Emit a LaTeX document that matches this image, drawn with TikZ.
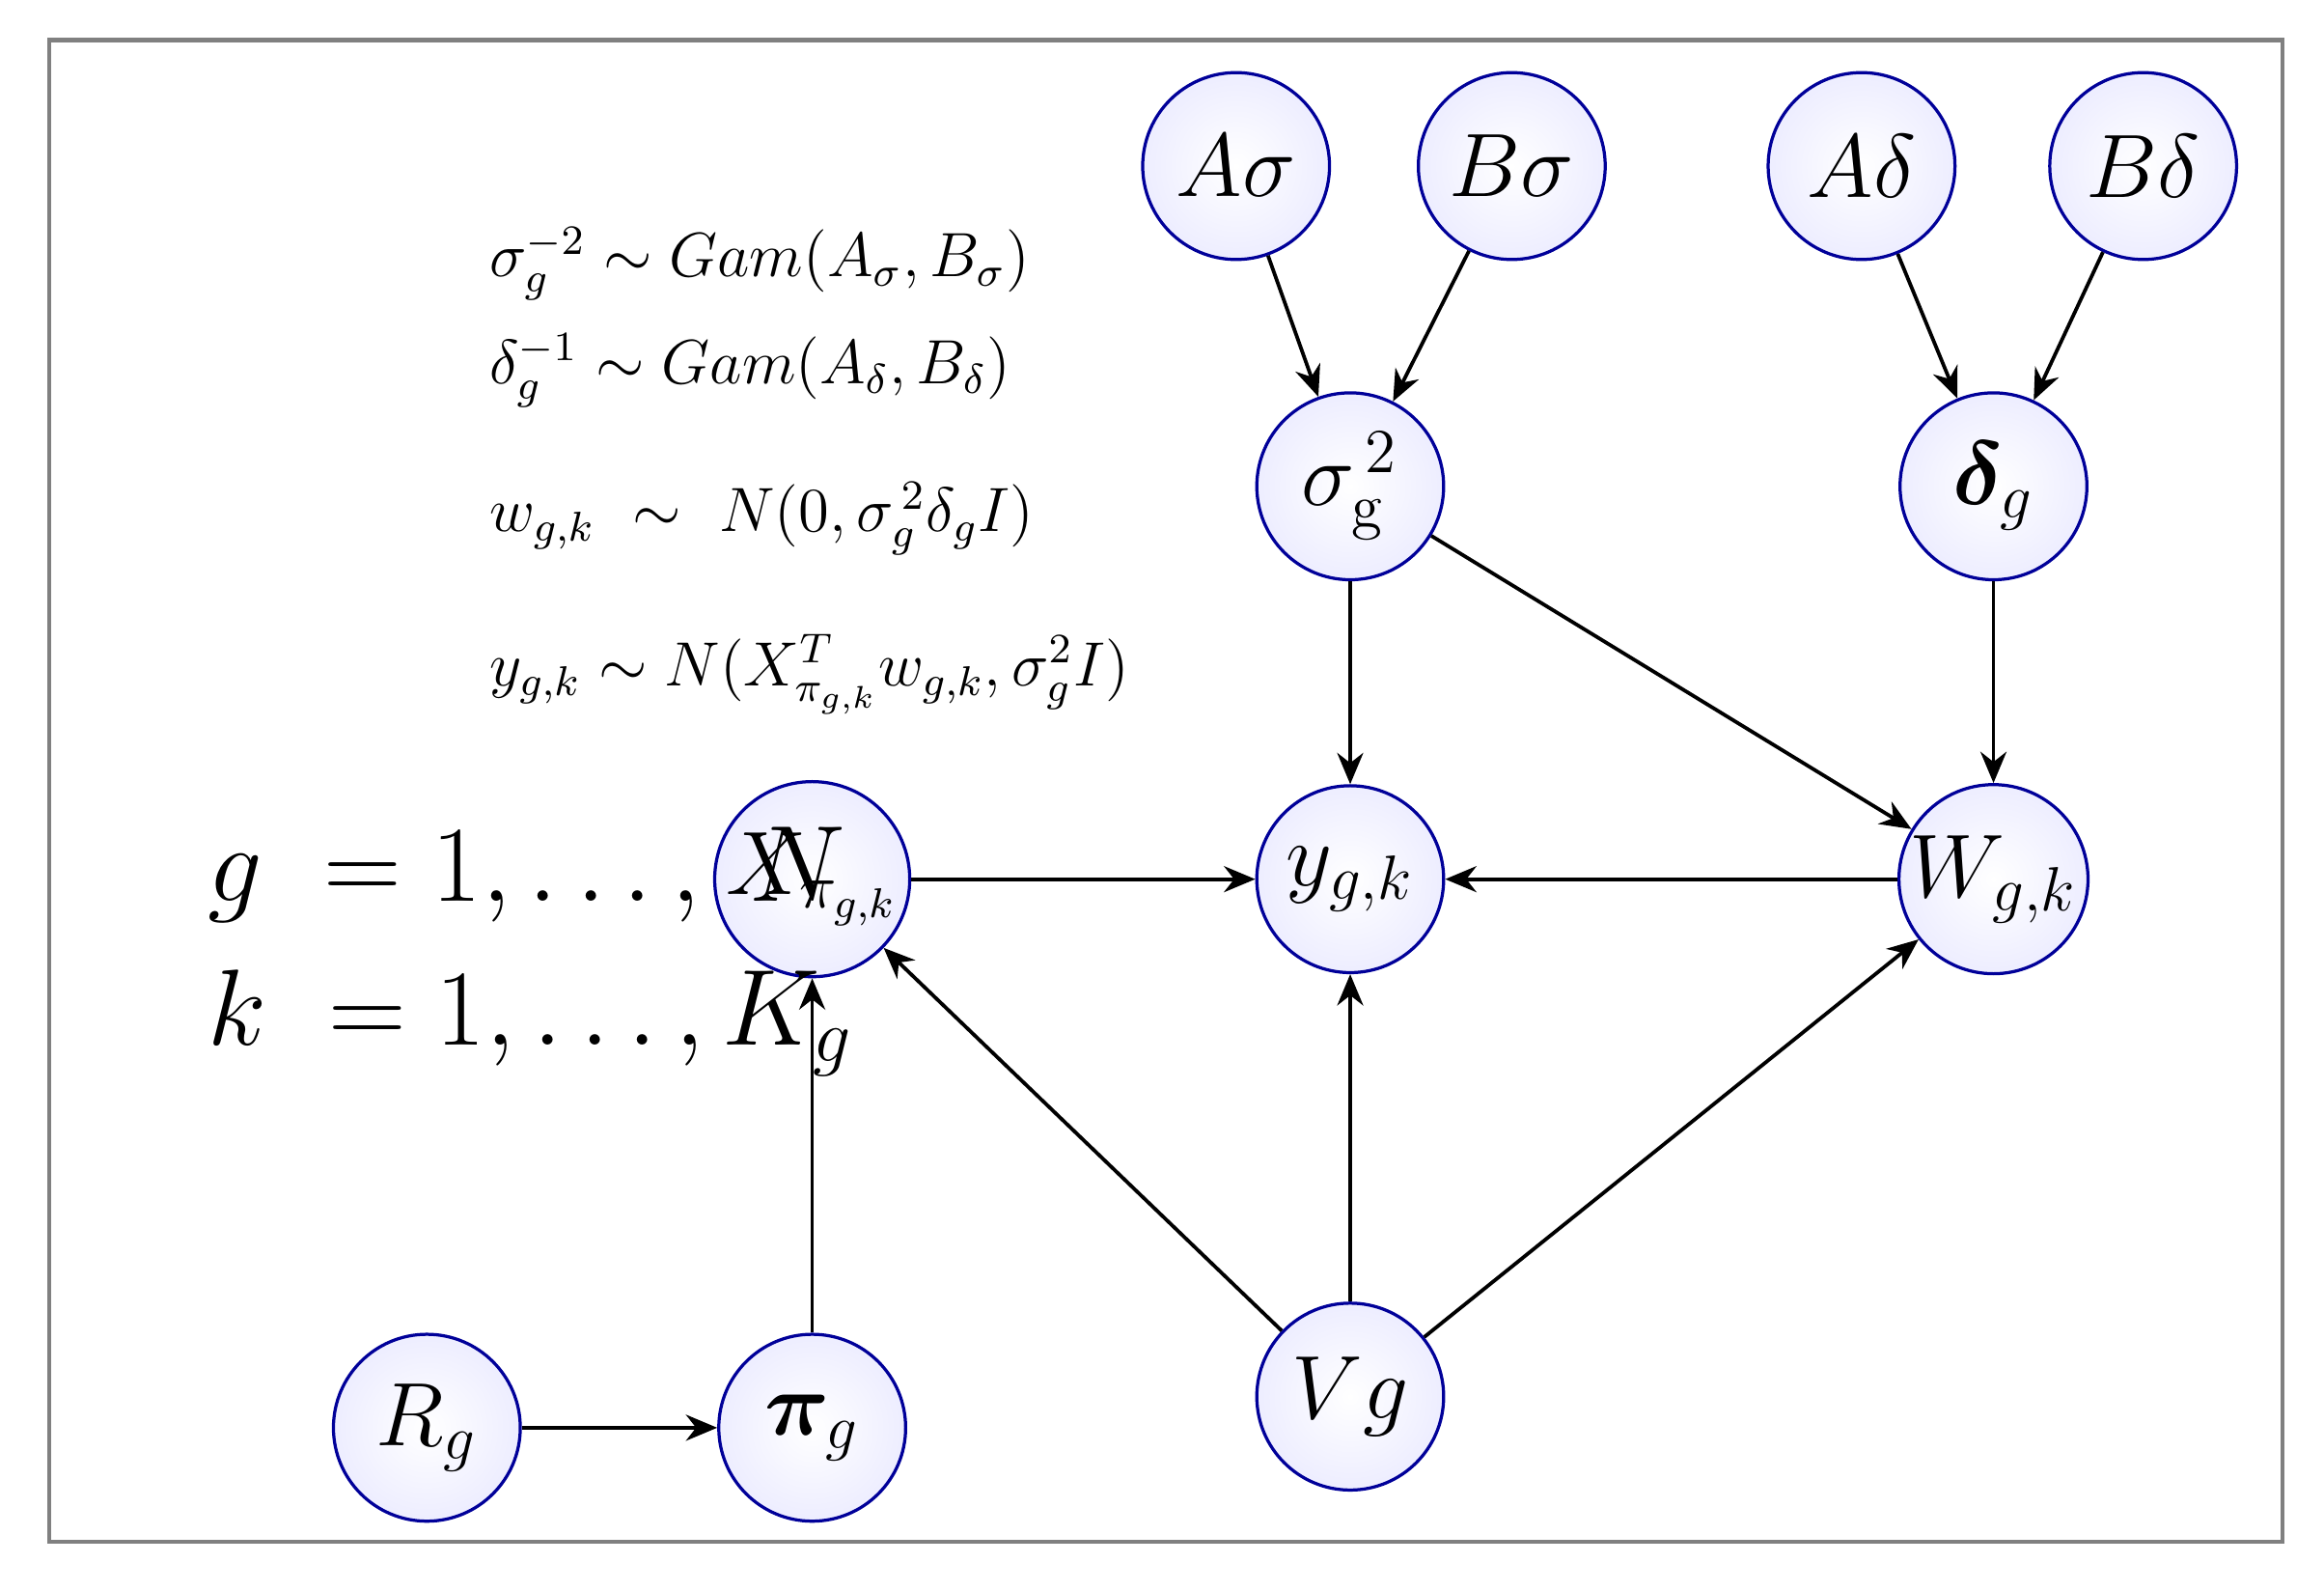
\documentclass[tikz,border=0pt]{standalone}
\usepackage{amsmath,amssymb,bm}
\usetikzlibrary{arrows.meta}
\begin{document}
\begin{tikzpicture}[x=0.01cm,y=-0.01cm,
  nd/.style={circle,draw=blue!60!black,line width=0.6pt,inner color=white,outer color=blue!7,minimum size=1.26cm,inner sep=0pt,font=\fontsize{17}{20}\selectfont},
  ar/.style={-{Stealth[length=6pt,width=5pt]},line width=0.7pt},
  eq/.style={anchor=west,font=\fontsize{12}{14}\selectfont}]
\useasboundingbox (0,0) rectangle (1568,1073);
\draw[gray,line width=0.8pt] (33,27) rectangle (1540,1040);
\node[nd] (as) at (834,112) {$A\sigma$};
\node[nd] (bs) at (1020,112) {$B\sigma$};
\node[nd] (ad) at (1256,112) {$A\delta$};
\node[nd] (bd) at (1446,112) {$B\delta$};
\node[nd] (s) at (911,328) {$\sigma_{\mathrm{g}}^{\,2}$};
\node[nd] (d) at (1345,328) {$\bm{\delta}_{g}$};
\node[nd] (x) at (548,593) {$X_{\pi_{g,k}}$};
\node[nd] (y) at (911,593) {$y_{g,k}$};
\node[nd] (w) at (1345,593) {$W_{g,k}$};
\node[nd] (r) at (288,963) {$R_g$};
\node[nd] (p) at (548,963) {$\bm{\pi}_{g}$};
\node[nd] (v) at (911,942) {$Vg$};
\draw[ar] (as) -- (s);
\draw[ar] (bs) -- (s);
\draw[ar] (ad) -- (d);
\draw[ar] (bd) -- (d);
\draw[ar] (s) -- (y);
\draw[ar] (s) -- (w);
\draw[ar] (d) -- (w);
\draw[ar] (x) -- (y);
\draw[ar] (w) -- (y);
\draw[ar] (v) -- (x);
\draw[ar] (v) -- (y);
\draw[ar] (v) -- (w);
\draw[ar] (p) -- (x);
\draw[ar] (r) -- (p);
\node[eq] (e1) at (318,178) {$\sigma_g^{-2}\sim Gam(A_\sigma,B_\sigma)$};
\node[eq] (e2) at (318,250) {$\delta_g^{-1}\sim Gam(A_\delta,B_\delta)$};
\node[eq] (e3) at (318,350) {$w_{g,k}\ \sim\ N(0,\sigma_g^{\,2}\delta_g I)$};
\node[eq] (e4) at (318,455) {$y_{g,k}\sim N(X^T_{\pi_{g,k}}w_{g,k},\sigma_g^2 I)$};
\node[anchor=west,font=\fontsize{20}{24}\selectfont] (g) at (128,590) {$g\ = 1,\ldots,\ N$};
\node[anchor=west,font=\fontsize{20}{24}\selectfont] (k) at (128,690) {$k\ = 1,\ldots,K_g$};
\end{tikzpicture}
\end{document}
